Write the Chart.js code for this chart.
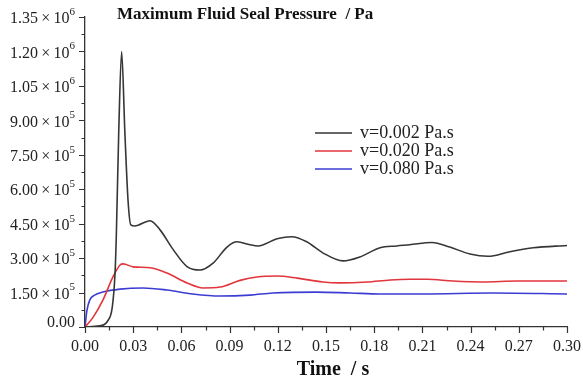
<!DOCTYPE html>
<html>
<head>
<meta charset="utf-8">
<title>Maximum Fluid Seal Pressure</title>
<script src="https://cdn.jsdelivr.net/npm/chart.js@4.4.0/dist/chart.umd.min.js"></script>
<style>
  html, body { margin: 0; padding: 0; background: #fff; }
  #wrap { width: 583px; height: 382px; position: relative; }
</style>
</head>
<body>
<div id="wrap"><canvas id="pressureChart"></canvas></div>
<script>
// Series (time in s, pressure in Pa)
const blackTime = [0, 0.009, 0.014, 0.017, 0.0187, 0.0195, 0.021, 0.0228, 0.0248, 0.0268, 0.0285, 0.031, 0.0405, 0.0467, 0.0548, 0.0635, 0.0716, 0.0797, 0.0884, 0.0946, 0.1027, 0.1077, 0.1195, 0.1288, 0.138, 0.148, 0.1606, 0.171, 0.1836, 0.194, 0.202, 0.216, 0.227, 0.2396, 0.2508, 0.2645, 0.279, 0.30];
const blackPressure = [0, 5000, 25000, 88000, 235000, 400000, 850000, 1200000, 850000, 550000, 445000, 440000, 463000, 423000, 338000, 263000, 248000, 278000, 348000, 371000, 358000, 353000, 384000, 393000, 371000, 323000, 288000, 305000, 345000, 353000, 358000, 368000, 348000, 318000, 308000, 328000, 345000, 355000];

const redTime = [0, 0.005, 0.0112, 0.0174, 0.0218, 0.0237, 0.030, 0.0405, 0.051, 0.0635, 0.0735, 0.084, 0.0965, 0.107, 0.1195, 0.132, 0.148, 0.1587, 0.1755, 0.19, 0.202, 0.213, 0.229, 0.2477, 0.269, 0.30];
const redPressure = [0, 42000, 118000, 218000, 270000, 275000, 262000, 258000, 235000, 192000, 170000, 174000, 203000, 218000, 222000, 213000, 196000, 192000, 196000, 205000, 208000, 208000, 200000, 196000, 200000, 200000];

const blueTime = [0, 0.0012, 0.003, 0.006, 0.011, 0.0218, 0.036, 0.051, 0.067, 0.084, 0.1027, 0.117, 0.144, 0.165, 0.1836, 0.21, 0.254, 0.30];
const bluePressure = [0, 72000, 118000, 139000, 152000, 165000, 170000, 161000, 144000, 135000, 139000, 148000, 152000, 148000, 144000, 144000, 148000, 144000];

const seriesLabels = ['v=0.002 Pa.s', 'v=0.020 Pa.s', 'v=0.080 Pa.s'];
const seriesColors = ['#363636', '#e2363c', '#3c3cd2'];

const xTicks = [0, 0.03, 0.06, 0.09, 0.12, 0.15, 0.18, 0.21, 0.24, 0.27, 0.30];
const xTickLabels = ['0.00', '0.03', '0.06', '0.09', '0.12', '0.15', '0.18', '0.21', '0.24', '0.27', '0.30'];
const yTicks = [0, 150000, 300000, 450000, 600000, 750000, 900000, 1050000, 1200000, 1350000];
const yTickLabels = ['0.00', '1.50\u2009\u00d7\u200910^5', '3.00\u2009\u00d7\u200910^5', '4.50\u2009\u00d7\u200910^5', '6.00\u2009\u00d7\u200910^5',
  '7.50\u2009\u00d7\u200910^5', '9.00\u2009\u00d7\u200910^5', '1.05\u2009\u00d7\u200910^6', '1.20\u2009\u00d7\u200910^6', '1.35\u2009\u00d7\u200910^6'];

const chartTitle = 'Maximum Fluid Seal Pressure  / Pa';
const xAxisTitle = 'Time  / s';

const SERIF = '"Liberation Serif", "Times New Roman", serif';
const AXIS_COLOR = '#333333';

function toPoints(times, values) {
  return times.map((t, i) => ({ x: t, y: values[i] }));
}

function midpoints(arr) {
  const out = [];
  for (let i = 0; i < arr.length - 1; i++) out.push((arr[i] + arr[i + 1]) / 2);
  return out;
}

/**
 * Draws Origin-style outward ticks, tick labels with exponents, titles and legend
 */
const originDecor = {
  id: 'originDecor',
  afterDraw(chart) {
    const { ctx, chartArea, scales } = chart;
    const x = scales.x, y = scales.y;
    ctx.save();
    ctx.strokeStyle = AXIS_COLOR;
    ctx.lineWidth = 1.2;

    // Tick marks
    ctx.beginPath();
    yTicks.forEach(v => {
      const py = Math.round(y.getPixelForValue(v)) + 0.5;
      ctx.moveTo(chartArea.left - 6, py); ctx.lineTo(chartArea.left, py);
    });
    midpoints(yTicks).forEach(v => {
      const py = Math.round(y.getPixelForValue(v)) + 0.5;
      ctx.moveTo(chartArea.left - 3.5, py); ctx.lineTo(chartArea.left, py);
    });
    xTicks.forEach(v => {
      const px = Math.round(x.getPixelForValue(v)) + 0.5;
      ctx.moveTo(px, chartArea.bottom); ctx.lineTo(px, chartArea.bottom + 6);
    });
    midpoints(xTicks).forEach(v => {
      const px = Math.round(x.getPixelForValue(v)) + 0.5;
      ctx.moveTo(px, chartArea.bottom); ctx.lineTo(px, chartArea.bottom + 3.5);
    });
    ctx.stroke();

    // X tick labels
    ctx.fillStyle = '#222';
    ctx.font = '16px ' + SERIF;
    ctx.textAlign = 'center';
    ctx.textBaseline = 'middle';
    xTicks.forEach((v, i) => {
      ctx.fillText(xTickLabels[i], x.getPixelForValue(v), chartArea.bottom + 20);
    });

    // Y tick labels, mantissa plus raised exponent
    const rightEdge = chartArea.left - 10;
    yTicks.forEach((v, i) => {
      const py = y.getPixelForValue(v);
      const parts = yTickLabels[i].split('^');
      if (parts.length === 1) {
        ctx.font = '16px ' + SERIF;
        ctx.textAlign = 'right';
        ctx.fillText(parts[0], rightEdge, py - 4);
        return;
      }
      ctx.font = '11px ' + SERIF;
      const expW = ctx.measureText(parts[1]).width;
      ctx.textAlign = 'left';
      ctx.fillText(parts[1], rightEdge - expW, py - 5);
      ctx.font = '16px ' + SERIF;
      ctx.textAlign = 'right';
      ctx.fillText(parts[0], rightEdge - expW, py + 2);
    });

    // Chart title
    ctx.fillStyle = '#111';
    ctx.font = 'bold 17px ' + SERIF;
    ctx.textAlign = 'left';
    ctx.textBaseline = 'alphabetic';
    ctx.fillText(chartTitle, chartArea.left + 32, 19);

    // Axis title
    ctx.font = 'bold 20px ' + SERIF;
    ctx.textAlign = 'center';
    ctx.fillText(xAxisTitle, chartArea.left + 248, 375);

    // Legend
    ctx.font = '18px ' + SERIF;
    ctx.textAlign = 'left';
    ctx.textBaseline = 'middle';
    ctx.lineWidth = 1.6;
    seriesLabels.forEach((label, i) => {
      const ly = 133 + i * 18;
      ctx.strokeStyle = seriesColors[i];
      ctx.beginPath();
      ctx.moveTo(chartArea.left + 230, ly);
      ctx.lineTo(chartArea.left + 267, ly);
      ctx.stroke();
      ctx.fillStyle = '#222';
      ctx.fillText(label, chartArea.left + 275, ly);
    });
    ctx.restore();
  }
};

const ctx = document.getElementById('pressureChart');
new Chart(ctx, {
  type: 'line',
  data: {
    datasets: [
      { label: seriesLabels[0], data: toPoints(blackTime, blackPressure), borderColor: seriesColors[0] },
      { label: seriesLabels[1], data: toPoints(redTime, redPressure), borderColor: seriesColors[1] },
      { label: seriesLabels[2], data: toPoints(blueTime, bluePressure), borderColor: seriesColors[2] }
    ]
  },
  options: {
    responsive: true,
    maintainAspectRatio: false,
    animation: false,
    layout: { padding: { top: 17, right: 16, left: 0, bottom: 0 } },
    elements: {
      point: { radius: 0 },
      line: { borderWidth: 1.6, cubicInterpolationMode: 'monotone', fill: false }
    },
    plugins: {
      legend: { display: false },
      title: { display: false },
      tooltip: { enabled: false }
    },
    scales: {
      x: {
        type: 'linear',
        min: 0,
        max: 0.30,
        grid: { display: false, drawTicks: false },
        border: { display: true, color: AXIS_COLOR, width: 1.3 },
        ticks: { display: false },
        afterFit(scale) { scale.height = 55; }
      },
      y: {
        type: 'linear',
        min: 0,
        max: 1350000,
        grid: { display: false, drawTicks: false },
        border: { display: true, color: AXIS_COLOR, width: 1.3 },
        ticks: { display: false },
        afterFit(scale) { scale.width = 85; }
      }
    }
  },
  plugins: [originDecor]
});
</script>
</body>
</html>
